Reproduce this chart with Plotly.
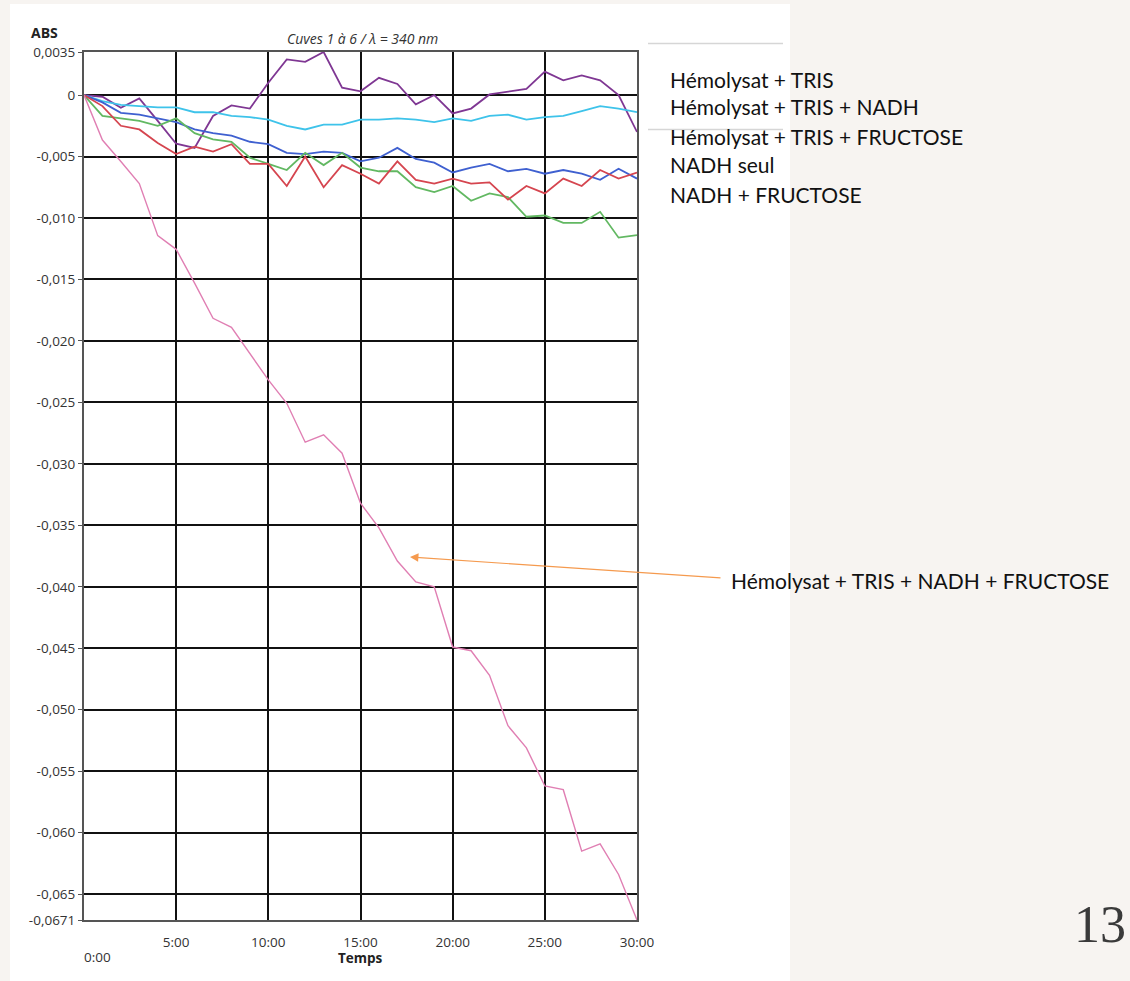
import plotly.graph_objects as go

# ---------------- data ----------------
minutes = list(range(31))

purple = [0, -0.00014, -0.00104, -0.00027, -0.0021, -0.00396, -0.0043, -0.0017, -0.00085, -0.0011,
          0.001, 0.0029, 0.0027, 0.0035, 0.0006, 0.0003, 0.0014, 0.0009, -0.00076, 0.0, -0.0015,
          -0.0011, 0.00005, 0.0003, 0.0005, 0.0019, 0.0012, 0.0016, 0.0012, 0.0, -0.0030]
cyan = [0, -0.0005, -0.0008, -0.0009, -0.0010, -0.0010, -0.0014, -0.0014, -0.0017, -0.0018,
        -0.0020, -0.0025, -0.0028, -0.0024, -0.0024, -0.0020, -0.0020, -0.0019, -0.0020, -0.0022,
        -0.0019, -0.0021, -0.0017, -0.0016, -0.0020, -0.0018, -0.0017, -0.0013, -0.0009, -0.0011, -0.0014]
blue = [0, -0.0006, -0.00145, -0.0016, -0.0019, -0.0022, -0.0028, -0.0031, -0.0033, -0.0038,
        -0.0040, -0.0047, -0.0048, -0.0046, -0.0047, -0.0054, -0.0051, -0.0043, -0.0052, -0.0055,
        -0.0063, -0.0059, -0.0056, -0.0062, -0.0060, -0.0064, -0.0061, -0.0064, -0.0069, -0.0060, -0.0068]
green = [0, -0.0017, -0.0019, -0.0021, -0.0025, -0.0019, -0.0031, -0.0036, -0.0038, -0.0051,
         -0.0056, -0.0061, -0.0047, -0.0057, -0.0047, -0.0059, -0.0062, -0.0062, -0.0075, -0.0079,
         -0.0074, -0.0086, -0.0080, -0.0083, -0.0099, -0.0098, -0.0104, -0.0104, -0.0095, -0.0116, -0.0114]
red = [0, -0.0009, -0.0025, -0.0028, -0.0039, -0.0048, -0.0042, -0.0046, -0.0040, -0.0056,
       -0.0056, -0.0074, -0.0050, -0.0075, -0.0057, -0.0064, -0.0072, -0.0054, -0.0069, -0.0072,
       -0.0068, -0.0072, -0.0071, -0.0085, -0.0074, -0.0080, -0.0068, -0.0074, -0.0061, -0.0068, -0.0063]
pink = [0, -0.00366, -0.0054, -0.0072, -0.01144, -0.01255, -0.0153, -0.01816, -0.01889, -0.0210,
        -0.02317, -0.02507, -0.02824, -0.02764, -0.02913, -0.0332, -0.0352, -0.0379, -0.0396, -0.0400,
        -0.0449, -0.0452, -0.0472, -0.0513, -0.0531, -0.0562, -0.0565, -0.0615, -0.0609, -0.0634, -0.0671]

series = [
    ("Cuve 1", purple, "#7f3793", 1.8),
    ("Cuve 2", cyan, "#3ec3ea", 1.8),
    ("Cuve 3", blue, "#3f60d0", 1.8),
    ("Cuve 4", green, "#62b862", 1.8),
    ("Cuve 5", red, "#d5454f", 1.8),
    ("Cuve 6", pink, "#e07fb3", 1.4),
]

x_tickvals = [5, 10, 15, 20, 25, 30]
x_ticktext = ["5:00", "10:00", "15:00", "20:00", "25:00", "30:00"]
y_tickvals = [0.0035, 0, -0.005, -0.010, -0.015, -0.020, -0.025, -0.030, -0.035, -0.040,
              -0.045, -0.050, -0.055, -0.060, -0.065, -0.0671]
y_ticktext = ["0,0035", "0", "-0,005", "-0,010", "-0,015", "-0,020", "-0,025", "-0,030", "-0,035",
              "-0,040", "-0,045", "-0,050", "-0,055", "-0,060", "-0,065", "-0,0671"]

legend_labels = ["Hémolysat + TRIS", "Hémolysat + TRIS + NADH", "Hémolysat + TRIS + FRUCTOSE",
                 "NADH seul", "NADH + FRUCTOSE"]
arrow_label = "Hémolysat + TRIS + NADH + FRUCTOSE"

# ---------------- layout geometry (pixels) ----------------
FW, FH = 1130, 981
L, R, T, B = 84, 493, 52, 61
PW, PH = FW - L - R, FH - T - B

def px(p):
    return (p - L) / PW

def py(p):
    return 1 - (p - T) / PH

fig = go.Figure()
for name, vals, col, w in series:
    fig.add_trace(go.Scatter(x=minutes, y=vals, mode="lines", name=name,
                             line=dict(color=col, width=w), showlegend=False))

tickfont = dict(family="Open Sans, sans-serif", size=13.5, color="#333")
fig.update_layout(
    width=FW, height=FH, autosize=False,
    margin=dict(l=L, r=R, t=T, b=B, pad=0),
    paper_bgcolor="#f7f4f1", plot_bgcolor="white",
    xaxis=dict(range=[0, 30], tickvals=x_tickvals, ticktext=x_ticktext, showgrid=True,
               gridcolor="#111", gridwidth=1.8, zeroline=False, showline=True, mirror=True,
               linecolor="#555", linewidth=2, ticks="", tickfont=tickfont, ticklabelstandoff=9),
    yaxis=dict(range=[-0.0671, 0.0035], tickvals=y_tickvals, ticktext=y_ticktext, showgrid=True,
               gridcolor="#111", gridwidth=1.8, zeroline=False, showline=True, mirror=True,
               linecolor="#555", linewidth=2, ticks="outside", ticklen=4, tickcolor="#555",
               tickfont=tickfont),
)

shapes = [
    dict(type="rect", xref="paper", yref="paper", x0=px(10), x1=px(790), y0=py(981), y1=py(4),
         fillcolor="white", line=dict(width=0), layer="below"),
    dict(type="line", xref="paper", yref="paper", x0=px(648), x1=px(783), y0=py(43.5), y1=py(43.5),
         line=dict(color="#d6d6d6", width=1.5)),
    dict(type="line", xref="paper", yref="paper", x0=px(648), x1=px(783), y0=py(129.5), y1=py(129.5),
         line=dict(color="#d6d6d6", width=1.5)),
]
fig.update_layout(shapes=shapes)

ann = [
    dict(text="<b>ABS</b>", x=px(29), y=py(33), xanchor="left", yanchor="middle",
         font=dict(family="Open Sans, sans-serif", size=14, color="#222"), showarrow=False),
    dict(text="<i>Cuves 1 à 6 / λ = 340 nm</i>", x=px(362), y=py(39), xanchor="center", yanchor="middle",
         font=dict(family="Open Sans, sans-serif", size=14, color="#333"), showarrow=False),
    dict(text="0:00", x=px(97), y=py(957), xanchor="center", yanchor="middle",
         font=tickfont, showarrow=False),
    dict(text="<b>Temps</b>", x=px(360), y=py(958), xanchor="center", yanchor="middle",
         font=dict(family="Open Sans, sans-serif", size=13.5, color="#222"), showarrow=False),
    dict(text=arrow_label, x=px(729), y=py(580), xanchor="left", yanchor="middle",
         font=dict(family="Lato, sans-serif", size=21, color="#111"), showarrow=False),
    dict(text="", x=px(410), y=py(557), ax=312, ay=21, xref="paper", yref="paper",
         showarrow=True, arrowhead=2, arrowsize=1.4, arrowwidth=1.2, arrowcolor="#f59a4e"),
    dict(text="13", x=px(1128), y=py(924), xanchor="right", yanchor="middle",
         font=dict(family="Liberation Serif, serif", size=52, color="#3a3a3a"), showarrow=False),
]
for i, (lab, yc) in enumerate(zip(legend_labels, [80, 106, 136, 165, 194])):
    ann.append(dict(text=lab, x=px(668), y=py(yc), xanchor="left", yanchor="middle",
                    font=dict(family="Lato, sans-serif", size=21, color="#111"), showarrow=False))
for a in ann:
    a.setdefault("xref", "paper")
    a.setdefault("yref", "paper")
fig.update_layout(annotations=ann)

fig.write_html("out.html", config={"displayModeBar": False},
               post_script="document.body.style.margin='0';")
